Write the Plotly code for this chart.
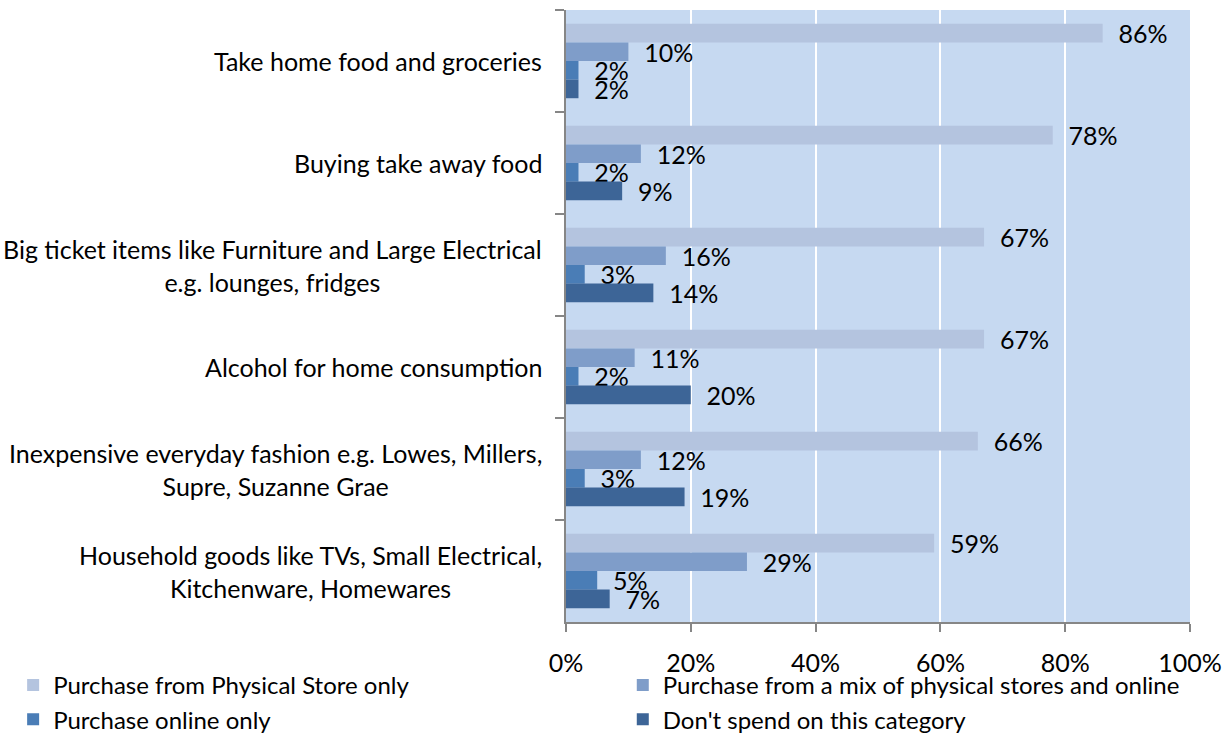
import plotly.graph_objects as go

categories = [
    "Take home food and groceries",
    "Buying take away food",
    "Big ticket items like Furniture and Large Electrical<br>e.g. lounges, fridges",
    "Alcohol for home consumption",
    "Inexpensive everyday fashion e.g. Lowes, Millers,<br>Supre, Suzanne Grae",
    "Household goods like TVs, Small Electrical,<br>Kitchenware, Homewares",
]
series_names = [
    "Purchase from Physical Store only",
    "Purchase from a mix of physical stores and online",
    "Purchase online only",
    "Don't spend on this category",
]
physical_only = [86, 78, 67, 67, 66, 59]
mix_physical_online = [10, 12, 16, 11, 12, 29]
online_only = [2, 2, 3, 2, 3, 5]
dont_spend = [2, 9, 14, 20, 19, 7]
x_ticks = [0, 20, 40, 60, 80, 100]
x_tick_labels = ["0%", "20%", "40%", "60%", "80%", "100%"]

colors = ["#B4C4DF", "#7F9DC9", "#4A7DB6", "#3D6597"]
legend_ids = ["legend", "legend2", "legend", "legend2"]
FONT = "Lato"
FS = 25
LEG_FS = 24

fig = go.Figure()
for name, vals, col, lg in zip(series_names,
                               [physical_only, mix_physical_online, online_only, dont_spend],
                               colors, legend_ids):
    fig.add_trace(go.Bar(
        y=categories, x=vals, name=name, orientation="h",
        marker=dict(color=col, line=dict(width=0)),
        text=[f"{v}%" for v in vals],
        texttemplate="  %{text}",
        textposition="outside",
        textfont=dict(family=FONT, size=FS, color="#000000"),
        constraintext="none",
        cliponaxis=False,
        legend=lg,
    ))

for c in categories:
    fig.add_annotation(
        x=0, xref="paper", y=c, yref="y", xanchor="right", xshift=-22,
        text=c, showarrow=False, align="center",
        font=dict(family=FONT, size=FS, color="#000000"),
    )

legend_common = dict(
    orientation="v", yanchor="top", xanchor="left",
    font=dict(family=FONT, size=LEG_FS, color="#000000"),
    traceorder="normal", itemsizing="constant",
    bgcolor="rgba(0,0,0,0)",
)

fig.update_layout(
    width=1230, height=736,
    margin=dict(l=566, r=40, t=10, b=114, autoexpand=False),
    paper_bgcolor="#FFFFFF",
    plot_bgcolor="#C6D9F1",
    barmode="group",
    bargap=0.27,
    bargroupgap=0,
    font=dict(family=FONT, size=FS, color="#000000"),
    showlegend=True,
    legend=dict(x=-0.886, y=-0.067, **legend_common),
    legend2=dict(x=0.091, y=-0.067, **legend_common),
)
fig.update_xaxes(
    range=[0, 100], tickvals=x_ticks, ticktext=x_tick_labels,
    showgrid=True, gridcolor="#FFFFFF", gridwidth=2,
    showline=True, linecolor="#868686", linewidth=1.5,
    ticks="outside", ticklen=8, tickcolor="#868686", tickwidth=1.5,
    ticklabelstandoff=10, zeroline=False,
    tickfont=dict(family=FONT, size=FS, color="#000000"),
)
fig.update_yaxes(
    autorange="reversed", showticklabels=False,
    showline=True, linecolor="#868686", linewidth=1.5,
    ticks="outside", ticklen=9, tickcolor="#868686", tickwidth=1.5,
    tickson="boundaries", showgrid=False,
)

fig.write_html("out.html")
